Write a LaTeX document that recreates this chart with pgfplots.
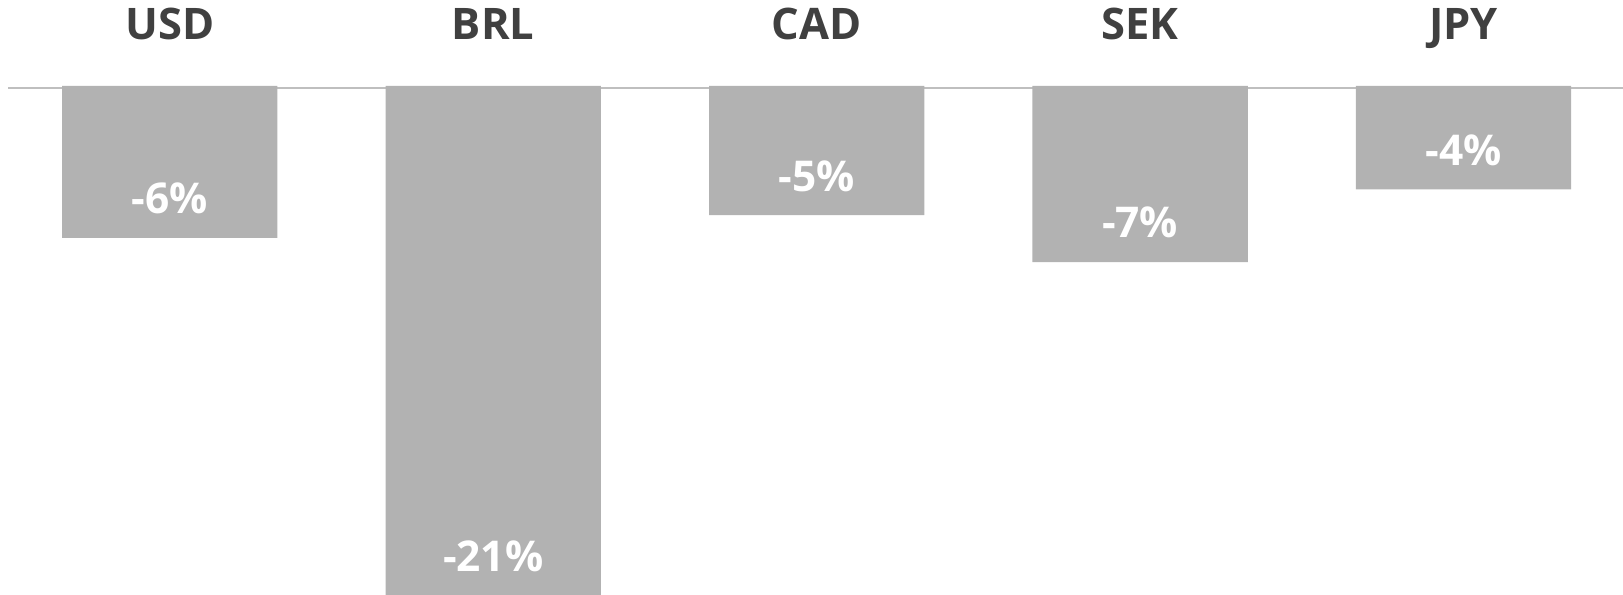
\documentclass[border=0pt]{standalone}
\usepackage{fontspec}
\setmainfont{Open Sans}
\usepackage{pgfplots}
\pgfplotsset{compat=1.18}

\definecolor{barGray}{HTML}{B2B2B2}
\definecolor{lineGray}{HTML}{BFBFBF}
\definecolor{labelDark}{HTML}{404040}

\begin{document}
\begin{tikzpicture}
% 1 px of the reference = 0.5pt
\begin{axis}[
    at={(4pt,0pt)}, anchor=south west,
    scale only axis,
    width=807.5pt, height=256pt,
    xmin=-0.4992, xmax=4.669,
    ymin=-21.85, ymax=0,
    clip=false,
    axis line style={draw=none},
    ytick=\empty,
    xtick=data,
    xticklabels={USD,BRL,CAD,SEK,JPY},
    xticklabel pos=upper,
    major tick style={draw=none},
    xticklabel style={anchor=base, yshift=18pt, text=labelDark,
        font=\fontsize{21pt}{25pt}\selectfont\bfseries},
    ybar, bar width=104pt,
    point meta=explicit symbolic,
    nodes near coords,
    every node near coord/.append style={anchor=center, yshift=19pt,
        text=white, font=\fontsize{20.5pt}{24pt}\selectfont\bfseries},
]
\draw[lineGray, line width=1pt] ([yshift=-1pt]axis cs:-0.4992,0) -- ([yshift=-1pt]axis cs:4.669,0);
\addplot[fill=barGray, draw=none] coordinates {
    (0,-6.27)  [{-6\%}]
    (1,-21.0)  [{-21\%}]
    (2,-5.33)  [{-5\%}]
    (3,-7.26)  [{-7\%}]
    (4,-4.27)  [{-4\%}]
};
\end{axis}
\pgfresetboundingbox
\path[use as bounding box] (0,10.1pt) rectangle (784pt,297.5pt);
\end{tikzpicture}
\end{document}
